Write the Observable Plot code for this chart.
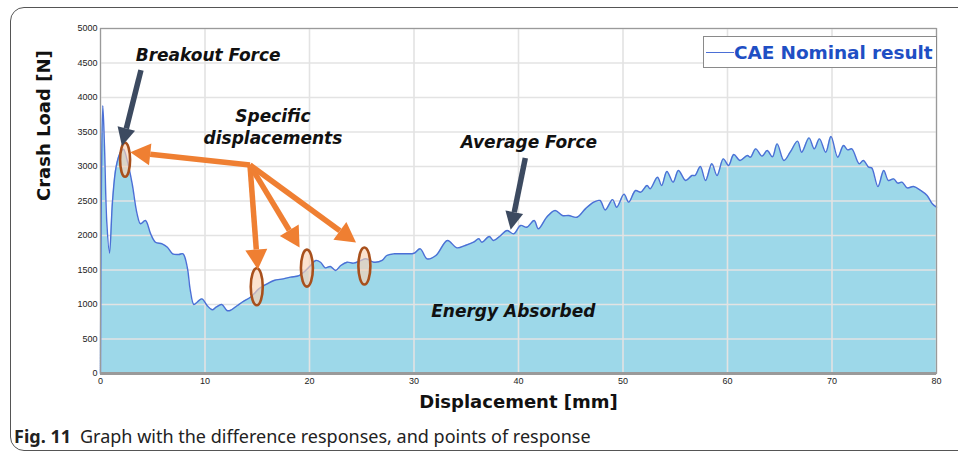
<!DOCTYPE html>
<html>
<head>
<meta charset="utf-8">
<script src="https://cdn.jsdelivr.net/npm/d3@7"></script>
<script src="https://cdn.jsdelivr.net/npm/@observablehq/plot@0.6"></script>
<style>
  html, body { margin: 0; padding: 0; background: #fff; }
  #wrap { position: relative; width: 958px; height: 456px; overflow: hidden; background: #fff; }
  #border { position: absolute; left: 10px; top: 7px; width: 1000px; height: 444px; border: 1.5px solid #555; border-radius: 14px; box-sizing: border-box; }
  #chart { position: absolute; left: 0; top: 0; }
  #legend { position: absolute; left: 703px; top: 36px; width: 234px; height: 32px; box-sizing: border-box; border: 1.5px solid #8a8a8a; background: #fff; display: flex; align-items: center; }
  #legend .swatch { width: 28px; height: 0; border-top: 1.5px solid #4b6fd6; margin-left: 2px; }
  #legend .lab { font-family: "DejaVu Sans", sans-serif; font-weight: bold; font-size: 18.5px; color: #1f4fc4; margin-left: 0px; white-space: nowrap; letter-spacing: -0.1px; }
  #caption { position: absolute; left: 14px; top: 424px; font-family: "Noto Sans", sans-serif; font-size: 18px; line-height: 24px; color: #222; white-space: nowrap; }
  #caption b { font-weight: bold; margin-right: 9px; }
</style>
</head>
<body>
<div id="wrap">
  <div id="border"></div>
  <div id="chart"></div>
  <div id="legend"><div class="swatch"></div><div class="lab">CAE Nominal result</div></div>
  <div id="caption"><b>Fig. 11</b>Graph with the difference responses, and points of response</div>
</div>
<script>
// ---- Data ----
const seriesName = "CAE Nominal result";
const displacement = [
  0, 0.08, 0.22, 0.38, 0.6, 0.86, 1.15, 1.5, 1.9, 2.2, 2.55, 3.03, 3.5, 3.83, 4.3, 4.8, 5.26, 5.9, 6.4, 6.9,
  7.5, 7.9, 8.3, 8.6, 8.93, 9.25, 9.7, 10.2, 10.7, 11.06, 11.6, 12.1, 12.4, 13.1, 13.55, 14.35, 14.7, 15.15, 15.95, 16.6,
  17.5, 18.2, 19.0, 19.45, 20.1, 20.6, 21.05, 21.5, 22.0, 22.5, 23.0, 23.6, 24.2, 24.9, 25.4, 26.15, 26.95, 27.4, 28.1, 28.7,
  29.3, 30.0, 30.6, 31.25, 32.1, 33.2, 34.1, 34.9, 35.7, 36.2, 36.5, 37.2, 37.6, 38.3, 38.9, 39.55, 40.2, 40.8, 41.5, 41.9,
  42.7, 43.5, 44.2, 44.8, 45.6, 46.4, 47.2, 47.8, 48.3, 49.0, 49.4, 50.1, 50.55, 51.2, 51.7, 52.3, 52.6, 53.3, 53.7, 54.2,
  54.8, 55.3, 56.0, 56.6, 56.9, 57.4, 57.9, 58.5, 59.0, 59.6, 60.1, 60.6, 61.2, 61.9, 62.2, 62.7, 63.3, 63.8, 64.3, 64.75,
  65.4, 66.0, 66.7, 67.1, 67.8, 68.3, 68.8, 69.4, 69.9, 70.55, 71.1, 71.5, 71.9, 72.6, 73.0, 73.5, 73.8, 74.4, 74.95, 75.4,
  75.9, 76.3, 76.7, 77.2, 77.8, 78.5, 79.1, 79.6, 80
];
const crashLoad = [
  0, 2600, 3880, 3300, 2200, 1745, 2500, 3000, 3200, 3250, 3090, 2750, 2314, 2170, 2217, 2024, 1903, 1880, 1830, 1735,
  1725, 1735, 1540, 1200, 1000, 1033, 1082, 986, 923, 961, 1000, 913, 913, 986, 1033, 1106, 1155, 1227, 1300, 1348,
  1372, 1396, 1420, 1468, 1565, 1638, 1613, 1531, 1550, 1493, 1565, 1613, 1599, 1638, 1662, 1613, 1638, 1710, 1735, 1735,
  1735, 1743, 1807, 1662, 1710, 1928, 1821, 1855, 1903, 1952, 1903, 1986, 1928, 2000, 2072, 2024, 2145, 2120, 2217, 2097,
  2265, 2362, 2290, 2290, 2265, 2386, 2483, 2507, 2370, 2520, 2410, 2600, 2483, 2652, 2628, 2725, 2676, 2845, 2725, 2928,
  2773, 2942, 2797, 2870, 2870, 3000, 2797, 3039, 2870, 3111, 3014, 3174, 3087, 3159, 3135, 3256, 3150, 3232, 3140, 3328,
  3087, 3207, 3367, 3207, 3415, 3256, 3401, 3207, 3435, 3135, 3304, 3242, 3256, 3039, 3087, 2990, 2980, 2710, 2942, 2797,
  2821, 2758, 2773, 2690, 2710, 2652, 2580, 2459, 2410
];
const xTicks = [0, 10, 20, 30, 40, 50, 60, 70, 80];
const yTicks = [0, 500, 1000, 1500, 2000, 2500, 3000, 3500, 4000, 4500, 5000];
const xLabel = "Displacement [mm]";
const yLabel = "Crash Load [N]";

// Annotations (data coordinates)
const annotationText = ["Breakout Force", "Specific", "displacements", "Average Force", "Energy Absorbed"];
const annotationX = [10.3, 16.5, 16.5, 41.0, 39.5];
const annotationY = [4610, 3720, 3410, 3350, 900];

const darkArrowFrom = [[3.92, 4390], [40.7, 3116]];
const darkArrowTo = [[2.1, 3290], [39.3, 2075]];

const orangeHub = [14.35, 3014];
const orangeTargets = [[2.9, 3200], [15.1, 1500], [19.1, 1820], [24.5, 1890]];

const markedX = [2.4, 15.0, 19.8, 25.3];
const markedY = [3090, 1250, 1520, 1550];

// ---- Build tables ----
const data = displacement.map((d, i) => ({x: d, y: crashLoad[i]}));
const notes = annotationText.map((t, i) => ({t, x: annotationX[i], y: annotationY[i]}));
const darkArrows = darkArrowFrom.map((f, i) => ({x1: f[0], y1: f[1], x2: darkArrowTo[i][0], y2: darkArrowTo[i][1]}));
const orangeArrows = orangeTargets.map(t => ({x1: orangeHub[0], y1: orangeHub[1], x2: t[0], y2: t[1]}));
const marks = markedX.map((x, i) => ({x, y: markedY[i]}));

function solidArrow(color, width, headLen, headHalf) {
  return (index, scales, values) => {
    const g = d3.create("svg:g");
    for (const i of index) {
      const x1 = values.x1[i], y1 = values.y1[i], x2 = values.x2[i], y2 = values.y2[i];
      const a = Math.atan2(y2 - y1, x2 - x1);
      const bx = x2 - headLen * Math.cos(a), by = y2 - headLen * Math.sin(a);
      g.append("line").attr("x1", x1).attr("y1", y1).attr("x2", bx).attr("y2", by)
        .attr("stroke", color).attr("stroke-width", width);
      const px = -Math.sin(a) * headHalf, py = Math.cos(a) * headHalf;
      g.append("polygon").attr("points", `${x2},${y2} ${bx + px},${by + py} ${bx - px},${by - py}`)
        .attr("fill", color);
    }
    return g.node();
  };
}

const fontAnno = "DejaVu Sans, Verdana, sans-serif";

const chart = Plot.plot({
  width: 958,
  height: 422,
  marginLeft: 100,
  marginRight: 22,
  marginTop: 28,
  marginBottom: 49,
  style: {fontFamily: "Liberation Sans, Arial, sans-serif", fontSize: "9px", color: "#222", background: "transparent"},
  x: {domain: [0, 80]},
  y: {domain: [0, 5000]},
  marks: [
    Plot.areaY(data, {x: "x", y: "y", fill: "#9dd8e9", curve: "catmull-rom"}),
    Plot.gridX(xTicks, {stroke: "#e3e3e3", strokeOpacity: 1, strokeWidth: 1.6}),
    Plot.gridY(yTicks, {stroke: "#e3e3e3", strokeOpacity: 1, strokeWidth: 1.6}),
    Plot.lineY(data, {x: "x", y: "y", stroke: "#4b6fd6", strokeWidth: 1.4, curve: "catmull-rom"}),
    Plot.frame({stroke: "#9a9a9a", strokeWidth: 1.2}),
    Plot.ruleY([0], {stroke: "#9a9a9a", strokeWidth: 3}),
    Plot.axisX(xTicks, {tickSize: 0, tickPadding: 4, label: null, tickFormat: d => String(d)}),
    Plot.axisY(yTicks, {tickSize: 0, tickPadding: 3, label: null, tickFormat: d => String(d)}),
    Plot.text([yLabel], {frameAnchor: "left", dx: -56, rotate: -90, fontSize: 18, fontWeight: "bold", fontFamily: fontAnno, fill: "#111"}),
    Plot.text([xLabel], {frameAnchor: "bottom", dy: 34, fontSize: 18, fontWeight: "bold", fontFamily: fontAnno, fill: "#111"}),
    Plot.dot(marks, {x: "x", y: "y", render: (index, scales, values) => {
      const g = d3.create("svg:g");
      for (const i of index) {
        const first = i === 0;
        g.append("ellipse").attr("cx", values.x[i]).attr("cy", values.y[i])
          .attr("rx", first ? 5 : 6).attr("ry", first ? 17 : 18.5)
          .attr("fill", "#fbd3b6").attr("fill-opacity", 0.65)
          .attr("stroke", "#a8501c").attr("stroke-width", 2.6);
      }
      return g.node();
    }}),
    Plot.arrow(orangeArrows, {x1: "x1", y1: "y1", x2: "x2", y2: "y2", render: solidArrow("#ef7f32", 5.5, 20, 11)}),
    Plot.arrow(darkArrows, {x1: "x1", y1: "y1", x2: "x2", y2: "y2", render: solidArrow("#3c4a60", 5.5, 18, 9)}),
    Plot.text(notes, {x: "x", y: "y", text: "t", fontSize: 17, fontWeight: "bold", fontStyle: "italic", fontFamily: fontAnno, fill: "#111"})
  ]
});
document.getElementById("chart").appendChild(chart);
</script>
</body>
</html>
